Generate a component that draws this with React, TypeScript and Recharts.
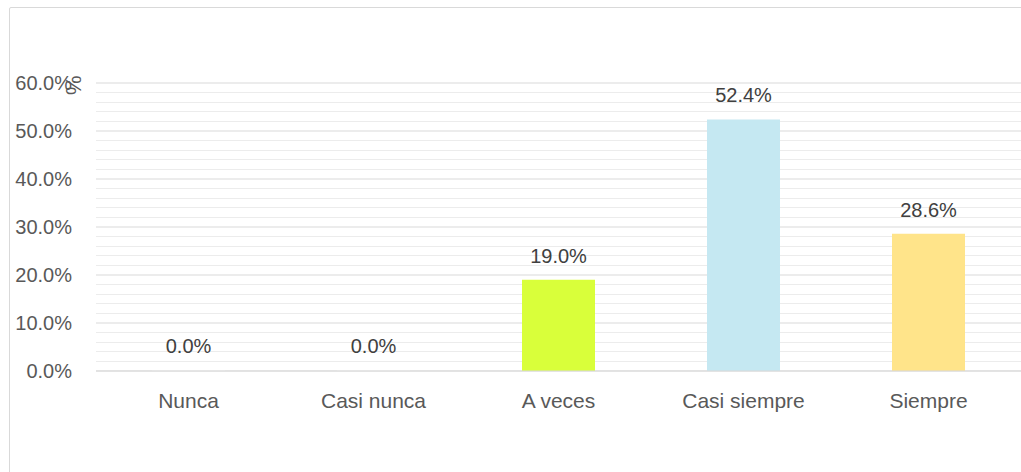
import { BarChart, Bar, XAxis, YAxis, CartesianGrid, LabelList, Cell } from "recharts";

const categories = ["Nunca", "Casi nunca", "A veces", "Casi siempre", "Siempre"];
const percentages = [0.0, 0.0, 19.0, 52.4, 28.6];
const barColors = ["#f2f2f2", "#f2f2f2", "#d9ff3a", "#c5e8f2", "#ffe48a"];
const majorTicks = [0, 10, 20, 30, 40, 50, 60];
const minorTicks = [2, 4, 6, 8, 12, 14, 16, 18, 22, 24, 26, 28, 32, 34, 36, 38, 42, 44, 46, 48, 52, 54, 56, 58];

const data = categories.map((name, i) => ({ name, value: percentages[i] }));

const font = "'Liberation Sans', Arial, sans-serif";
const fmt = (v: number) => `${v.toFixed(1)}%`;

export default function App() {
  return (
    <div
      style={{
        position: "fixed",
        left: 0,
        top: 0,
        width: 1021,
        height: 472,
        overflow: "hidden",
        background: "#fff",
        fontFamily: font,
      }}
    >
      <div
        style={{
          position: "absolute",
          left: 9,
          top: 7,
          width: 1040,
          height: 500,
          border: "1px solid #d9d9d9",
          borderRadius: 2,
        }}
      />
      <div style={{ position: "absolute", left: 0, top: 0 }}>
        <BarChart
          width={1030}
          height={472}
          data={data}
          margin={{ top: 83, right: 9, left: 0, bottom: 41 }}
          barCategoryGap={56}
        >
          {/* minor lines every 2% */}
          <CartesianGrid
            vertical={false}
            horizontalValues={minorTicks}
            stroke="#ececec"
            strokeWidth={1}
            shapeRendering="crispEdges"
          />
          <CartesianGrid vertical={false} stroke="#d9d9d9" strokeWidth={1} />
          <XAxis
            dataKey="name"
            height={60}
            tickLine={false}
            tickSize={0}
            tickMargin={22}
            axisLine={{ stroke: "#d9d9d9" }}
            tick={{ fill: "#595959", fontSize: 21, fontFamily: font }}
          />
          <YAxis
            width={96}
            domain={[0, 60]}
            ticks={majorTicks}
            interval={0}
            tickFormatter={fmt}
            tickLine={false}
            axisLine={false}
            tickSize={0}
            tickMargin={24}
            tick={{ fill: "#595959", fontSize: 20, fontFamily: font }}
            label={{
              value: "%",
              angle: 90,
              position: "insideTopRight",
              offset: 0,
              dx: -14,
              dy: 12,
              fill: "#595959",
              fontSize: 22,
              fontFamily: font,
            }}
          />
          <Bar dataKey="value" minPointSize={1} isAnimationActive={false}>
            {data.map((d, i) => (
              <Cell key={d.name} fill={barColors[i]} />
            ))}
            <LabelList
              dataKey="value"
              position="top"
              offset={17}
              formatter={(v: number) => fmt(v)}
              fill="#404040"
              fontSize={20}
              fontFamily={font}
            />
          </Bar>
        </BarChart>
      </div>
    </div>
  );
}
